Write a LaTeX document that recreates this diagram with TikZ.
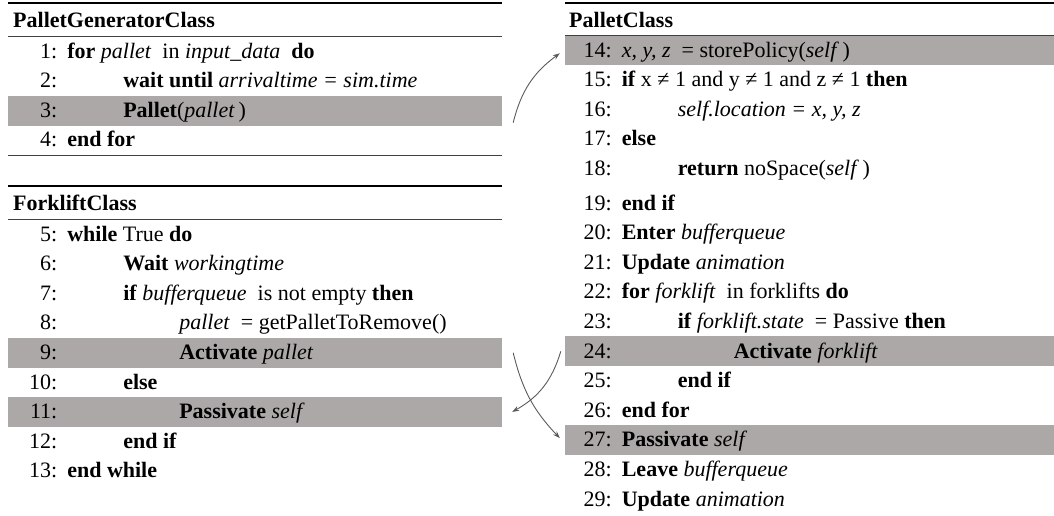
\documentclass[tikz,border=0pt]{standalone}
\usepackage{fontspec}
\setmainfont{Liberation Serif}
\usetikzlibrary{matrix,fit,backgrounds,arrows.meta}

\definecolor{bandgray}{RGB}{171,168,167}
\definecolor{linkgray}{RGB}{90,90,90}

\newcommand{\tabA}{\hspace*{56pt}}
\newcommand{\tabB}{\hspace*{112pt}}

\tikzset{
  code/.style={matrix of nodes, inner sep=0pt, column sep=10pt,
    nodes={inner xsep=0pt, inner ysep=3.5pt, text height=18pt, text depth=4.6pt,
      font=\fontsize{22}{26}\selectfont},
    column 1/.style={anchor=base east},
    column 2/.style={anchor=base west}},
  title/.style={anchor=base west, inner sep=0pt, font=\fontsize{22}{26}\selectfont\bfseries},
  toprule/.style={line width=1.8pt},
  midrule/.style={line width=0.9pt, black!75},
  band/.style={fill=bandgray, inner sep=0pt},
  link/.style={linkgray, line width=0.9pt, -{Stealth[length=7pt,width=5pt]}}
}

\begin{document}
\begin{tikzpicture}[x=1pt, y=-1pt]
\useasboundingbox (0,0) rectangle (1054,515);

% panel edges
\coordinate (gl) at (8,0);
\coordinate (gr) at (502,0);
\coordinate (pl) at (565,0);
\coordinate (pr) at (1054,0);

\node[title] (genhead) at (13,27) {PalletGeneratorClass};
\matrix[code, anchor=gen-1-1.base east] (gen) at (57.5,58) {
    1: & \textbf{for} \textit{pallet}\ \ in \textit{input\_data}\ \ \textbf{do}\\
    2: & \tabA\textbf{wait until} \textit{arrivaltime = sim.time}\\
    3: & \tabA\textbf{Pallet}(\textit{pallet}\,)\\
    4: & \textbf{end for}\\
};

\node[title] (forkhead) at (13,210) {ForkliftClass};
\matrix[code, anchor=fork-1-1.base east] (fork) at (57.5,241) {
    5: & \textbf{while} True \textbf{do}\\
    6: & \tabA\textbf{Wait} \textit{workingtime}\\
    7: & \tabA\textbf{if} \textit{bufferqueue}\ \ is not empty \textbf{then}\\
    8: & \tabB\textit{pallet}\ \ = getPalletToRemove()\\
    9: & \tabB\textbf{Activate} \textit{pallet}\\
    10: & \tabA\textbf{else}\\
    11: & \tabB\textbf{Passivate} \textit{self}\\
    12: & \tabA\textbf{end if}\\
    13: & \textbf{end while}\\
};

\node[title] (palhead) at (569,27) {PalletClass};
\matrix[code, anchor=pal-1-1.base east] (pal) at (612,57) {
    14: & \textit{x, y, z}\ \ = storePolicy(\textit{self}\,)\\
    15: & \textbf{if} x ≠ 1 and y ≠ 1 and z ≠ 1 \textbf{then}\\
    16: & \tabA\textit{self.location = x, y, z}\\
    17: & \textbf{else}\\
    18: & \tabA\textbf{return} noSpace(\textit{self}\,)\\[5pt]
    19: & \textbf{end if}\\
    20: & \textbf{Enter} \textit{bufferqueue}\\
    21: & \textbf{Update} \textit{animation}\\
    22: & \textbf{for} \textit{forklift}\ \ in forklifts \textbf{do}\\
    23: & \tabA\textbf{if} \textit{forklift.state}\ \ = Passive \textbf{then}\\
    24: & \tabB\textbf{Activate} \textit{forklift}\\
    25: & \tabA\textbf{end if}\\
    26: & \textbf{end for}\\
    27: & \textbf{Passivate} \textit{self}\\
    28: & \textbf{Leave} \textit{bufferqueue}\\
    29: & \textbf{Update} \textit{animation}\\
};

% highlighted rows
\begin{scope}[on background layer]
\node[band, fit=(gen-3-1.north -| gl) (gen-3-1.south -| gr)] (b3) {};
\node[band, fit=(fork-5-1.north -| gl) (fork-5-1.south -| gr)] (b9) {};
\node[band, fit=(fork-7-1.north -| gl) (fork-7-1.south -| gr)] (b11) {};
\node[band, fit=(pal-1-1.north -| pl) (pal-1-1.south -| pr)] (b14) {};
\node[band, fit=(pal-11-1.north -| pl) (pal-11-1.south -| pr)] (b24) {};
\node[band, fit=(pal-14-1.north -| pl) (pal-14-1.south -| pr)] (b27) {};
\end{scope}

% rules
\draw[toprule] (8,3) -- (502,3);
\draw[midrule] (gen-1-1.north -| gl) -- (gen-1-1.north -| gr);
\draw[midrule] (gen-4-1.south -| gl) -- (gen-4-1.south -| gr);
\draw[toprule] (8,186) -- (502,186);
\draw[midrule] (fork-1-1.north -| gl) -- (fork-1-1.north -| gr);
\draw[toprule] (565,3) -- (1054,3);
\draw[midrule] (pal-1-1.north -| pl) -- (pal-1-1.north -| pr);

% calls between classes
\draw[link] ([xshift=11pt,yshift=3pt]b3.south east) to[bend left=20] ([xshift=-5pt,yshift=-3pt]b14.west);
\draw[link] ([xshift=11pt]b9.east) to[bend right=15] ([xshift=-5pt,yshift=2pt]b27.west);
\draw[link] ([xshift=-4pt]b24.west) to[bend left=22] ([xshift=10pt]b11.east);
\end{tikzpicture}
\end{document}
